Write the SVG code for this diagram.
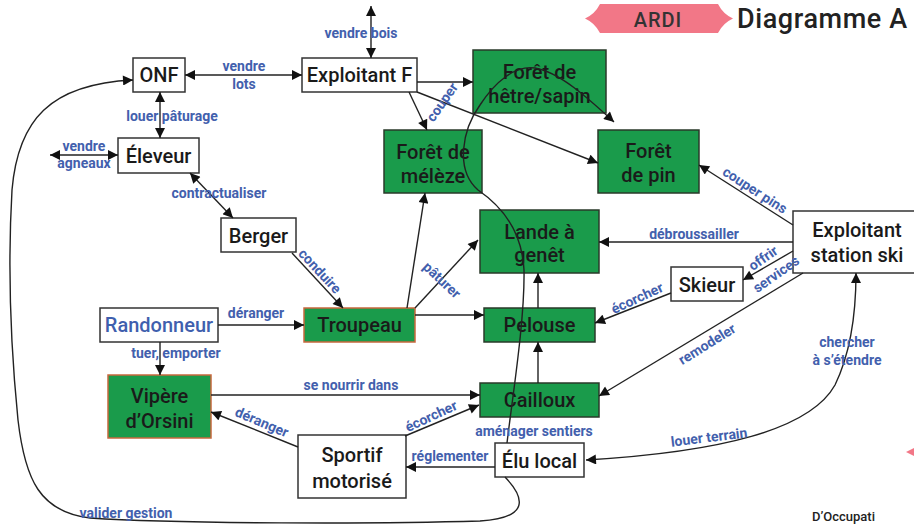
<svg xmlns="http://www.w3.org/2000/svg" width="914" height="525" viewBox="0 0 914 525">
<defs>
<marker id="ah" viewBox="0 0 10 10" refX="10" refY="5" markerUnits="userSpaceOnUse" markerWidth="12" markerHeight="10" orient="auto-start-reverse">
<path d="M0,0 L10,5 L0,10 z" fill="#111"/>
</marker>
<style>
.box{fill:#fff;stroke:#333;stroke-width:1.5}
.g{fill:#1a9b4b;stroke:#2a3a2a;stroke-width:1.5}
.go{fill:#1a9b4b;stroke:#c8683e;stroke-width:1.5}
.t{font-family:Roboto,"Liberation Sans",sans-serif;font-weight:500;font-size:20px;fill:#1a1a1a;text-anchor:middle}
.l{font-family:Roboto,"Liberation Sans",sans-serif;font-weight:700;font-size:14px;fill:#4260ad;text-anchor:middle}
.c line,.c path{stroke:#222;stroke-width:1.4;fill:none}
</style>
</defs>
<rect width="914" height="525" fill="#fff"/>

<g id="title">
<path d="M600,4 L718,4 Q723,14 733,18.5 Q723,23 718,33 L600,33 Q595,23 585,18.5 Q595,14 600,4 Z" fill="#f27787"/>
<text x="658" y="27" font-family="Roboto,'Liberation Sans',sans-serif" font-weight="500" font-size="20" fill="#333" text-anchor="middle" letter-spacing="1">ARDI</text>
<text x="737" y="28" font-family="Roboto,'Liberation Sans',sans-serif" font-weight="500" font-size="27" fill="#222" letter-spacing="0.6">Diagramme A</text>
<polygon points="906,452 914,448 914,456" fill="#f27787"/>
<text x="812" y="521" font-family="Roboto,'Liberation Sans',sans-serif" font-weight="500" font-size="13" fill="#222">D’Occupati</text>
</g>

<g id="onf"><rect class="box" x="133" y="58" width="52" height="34"/><text class="t" x="159" y="82">ONF</text></g>
<g id="exploitant-f"><rect class="box" x="302" y="58" width="115" height="34"/><text class="t" x="359.5" y="82">Exploitant F</text></g>
<g id="foret-hetre"><rect class="g" x="473" y="50" width="133" height="63"/><text class="t" x="539.5" y="78.5">Forêt de</text><text class="t" x="539.5" y="103">hêtre/sapin</text></g>
<g id="foret-meleze"><rect class="g" x="384" y="130" width="98" height="63"/><text class="t" x="433" y="158.5">Forêt de</text><text class="t" x="433" y="183">mélèze</text></g>
<g id="foret-pin"><rect class="g" x="598" y="130" width="101" height="63"/><text class="t" x="648.5" y="157.5">Forêt</text><text class="t" x="648.5" y="182">de pin</text></g>
<g id="eleveur"><rect class="box" x="118" y="138" width="81" height="35"/><text class="t" x="158.5" y="163">Éleveur</text></g>
<g id="berger"><rect class="box" x="221" y="218" width="75" height="34"/><text class="t" x="258.5" y="242.5">Berger</text></g>
<g id="randonneur"><rect class="box" x="100" y="308" width="118" height="34"/><text class="t" x="159" y="332" style="fill:#3f5fae">Randonneur</text></g>
<g id="troupeau"><rect class="go" x="304" y="308" width="111" height="34"/><text class="t" x="359.5" y="332">Troupeau</text></g>
<g id="lande"><rect class="g" x="480" y="210" width="119" height="63"/><text class="t" x="539.5" y="238.5">Lande à</text><text class="t" x="539.5" y="262">genêt</text></g>
<g id="pelouse"><rect class="g" x="484" y="308" width="111" height="34"/><text class="t" x="539.5" y="332">Pelouse</text></g>
<g id="cailloux"><rect class="g" x="480" y="383" width="119" height="34"/><text class="t" x="539.5" y="407">Cailloux</text></g>
<g id="elu"><rect class="box" x="495" y="443" width="89" height="34"/><text class="t" x="539.5" y="468">Élu local</text></g>
<g id="sportif"><rect class="box" x="298" y="435" width="108" height="63"/><text class="t" x="352" y="461.5">Sportif</text><text class="t" x="352" y="488">motorisé</text></g>
<g id="vipere"><rect class="go" x="108" y="375" width="103" height="63"/><text class="t" x="159.5" y="402.5">Vipère</text><text class="t" x="159.5" y="428">d’Orsini</text></g>
<g id="skieur"><rect class="box" x="671" y="267" width="72" height="34"/><text class="t" x="707" y="291.5">Skieur</text></g>
<g id="station-ski"><rect class="box" x="793" y="211" width="135" height="62"/><text class="t" x="857" y="237">Exploitant</text><text class="t" x="857" y="262">station ski</text></g>

<g class="c" id="connectors">
<line x1="185" y1="75" x2="302" y2="75" marker-start="url(#ah)" marker-end="url(#ah)"/>
<line x1="160" y1="92" x2="160" y2="138" marker-start="url(#ah)" marker-end="url(#ah)"/>
<line x1="50" y1="155" x2="118" y2="155" marker-start="url(#ah)" marker-end="url(#ah)"/>
<line x1="190" y1="173" x2="233" y2="218" marker-start="url(#ah)" marker-end="url(#ah)"/>
<line x1="371" y1="6" x2="371" y2="58" marker-start="url(#ah)" marker-end="url(#ah)"/>
<line x1="417" y1="82" x2="473" y2="82" marker-end="url(#ah)"/>
<line x1="409" y1="92" x2="427" y2="130" marker-end="url(#ah)"/>
<line x1="417" y1="92" x2="598" y2="163" marker-end="url(#ah)"/>
<line x1="292" y1="253" x2="343" y2="308" marker-end="url(#ah)"/>
<line x1="218" y1="325" x2="304" y2="325" marker-end="url(#ah)"/>
<line x1="160" y1="342" x2="160" y2="375" marker-end="url(#ah)"/>
<line x1="407" y1="308" x2="425" y2="193" marker-end="url(#ah)"/>
<line x1="415" y1="308" x2="478" y2="240" marker-end="url(#ah)"/>
<line x1="415" y1="315" x2="484" y2="315" marker-end="url(#ah)"/>
<line x1="538" y1="308" x2="538" y2="273" marker-end="url(#ah)"/>
<line x1="538" y1="383" x2="538" y2="342" marker-end="url(#ah)"/>
<line x1="211" y1="395" x2="480" y2="395" marker-end="url(#ah)"/>
<line x1="298" y1="447" x2="211" y2="412" marker-end="url(#ah)"/>
<line x1="405" y1="436" x2="479" y2="405" marker-end="url(#ah)"/>
<line x1="495" y1="467" x2="406" y2="467" marker-end="url(#ah)"/>
<line x1="793" y1="225" x2="699" y2="165" marker-end="url(#ah)"/>
<line x1="793" y1="242" x2="599" y2="242" marker-end="url(#ah)"/>
<line x1="793" y1="251" x2="743" y2="280" marker-end="url(#ah)"/>
<line x1="671" y1="293" x2="595" y2="323" marker-end="url(#ah)"/>
<line x1="803" y1="273" x2="599" y2="396" marker-end="url(#ah)"/>
<path d="M586,460 C720,452 810,430 835,385 C852,350 856,310 856,273" marker-start="url(#ah)" marker-end="url(#ah)"/>
<path d="M505,477 C525,498 530,518 480,521 C380,524 180,524 90,518 C40,512 25,480 18,420 C10,340 8,260 12,190 C18,120 50,84 133,80" marker-end="url(#ah)"/>
<path d="M507,443 C512,400 525,320 524,270 C522,230 500,205 478,190 C455,170 462,130 480,105 C495,82 515,65 535,68 C560,72 590,100 614,122" marker-end="url(#ah)"/>
</g>

<g id="labels">
<text class="l" x="361" y="38">vendre bois</text>
<text class="l" x="244" y="71">vendre</text>
<text class="l" x="244" y="89">lots</text>
<text class="l" x="172" y="121">louer pâturage</text>
<text class="l" x="84" y="151">vendre</text>
<text class="l" x="84" y="168">agneaux</text>
<text class="l" x="219" y="198">contractualiser</text>
<text class="l" transform="translate(320,271) rotate(47)" y="5">conduire</text>
<text class="l" transform="translate(442,102) rotate(-55)" y="5">couper</text>
<text class="l" transform="translate(442,280) rotate(43)" y="5">pâturer</text>
<text class="l" x="256" y="318">déranger</text>
<text class="l" x="176" y="358">tuer, emporter</text>
<text class="l" x="351" y="390">se nourrir dans</text>
<text class="l" transform="translate(262,422) rotate(23)" y="5">déranger</text>
<text class="l" transform="translate(431,416) rotate(-25)" y="5">écorcher</text>
<text class="l" x="450" y="461">réglementer</text>
<text class="l" x="534" y="436">aménager sentiers</text>
<text class="l" x="126" y="518">valider gestion</text>
<text class="l" transform="translate(755,190) rotate(33)" y="5">couper pins</text>
<text class="l" x="694" y="239">débroussailler</text>
<text class="l" transform="translate(763,258) rotate(-35)" y="5">offrir</text>
<text class="l" transform="translate(776,274) rotate(-35)" y="5">services</text>
<text class="l" transform="translate(637,298) rotate(-25)" y="5">écorcher</text>
<text class="l" transform="translate(707,344) rotate(-32)" y="5">remodeler</text>
<text class="l" x="847" y="347">chercher</text>
<text class="l" x="847" y="365">à s’étendre</text>
<text class="l" transform="translate(709,437) rotate(-7)" y="5">louer terrain</text>
</g>
</svg>
